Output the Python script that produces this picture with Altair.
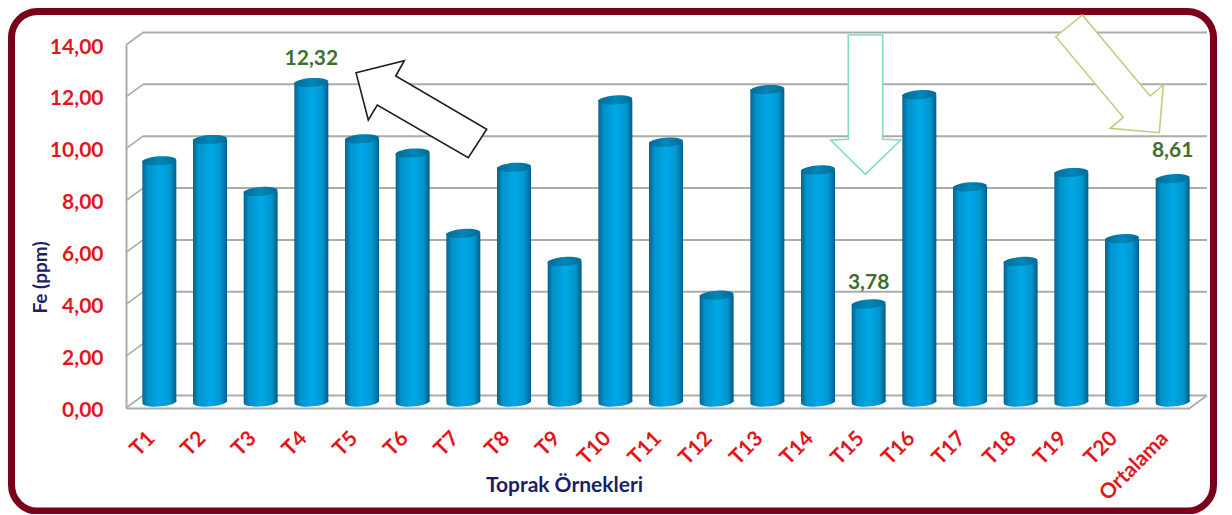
import altair as alt
import pandas as pd

categories = ["T1","T2","T3","T4","T5","T6","T7","T8","T9","T10","T11","T12","T13","T14","T15","T16","T17","T18","T19","T20","Ortalama"]
values = [9.30,10.12,8.12,12.32,10.15,9.60,6.50,9.05,5.42,11.65,10.02,4.12,12.05,8.95,3.78,11.85,8.30,5.42,8.85,6.30,8.61]
grid_values = [0,2,4,6,8,10,12,14]
callouts = [("12,32",3,12.32,-30),("3,78",14,3.78,-27),("8,61",20,8.61,-34)]

FONT = "Lato"
RED = "#e3171b"
NAVY = "#1d1d66"
GREEN = "#3f7030"
GRID = "#ababab"
W, H = 1064, 363
OX, OY = 126, 45          # plot origin in picture pixels

df = pd.DataFrame({"cat": categories, "i": [k + .5 for k in range(len(categories))], "v": values, "base": 0})
gdf = pd.DataFrame({"g": grid_values, "x0": 0, "x1": len(categories)})

xs = alt.Scale(domain=[0, len(categories)], nice=False, zero=False, padding=0)
ys = alt.Scale(domain=[0, 14], nice=False, padding=0)

def grad(stops):
    return {"gradient": "linear", "x1": 0, "x2": 1, "y1": 0, "y2": 0,
            "stops": [{"offset": o, "color": c} for o, c in stops]}

body = grad([(0, "#00658f"), (.16, "#0092ca"), (.5, "#00a8e6"), (.8, "#0098d2"), (1, "#005f88")])
top = grad([(0, "#006c96"), (.5, "#0086b8"), (1, "#006c96")])
ELLIPSE = "M-17,1.2 A17,4.5,-4,1,1,17,-1.2 A17,4.5,-4,1,1,-17,1.2 Z"

label_js = "[" + ",".join(f"'{c}'" for c in categories) + "][floor(datum.value)]"
x_axis = alt.Axis(values=df["i"].tolist(), labelExpr=label_js, labelAngle=-45, labelAlign="right",
                  labelBaseline="middle", labelPadding=27, labelColor=RED, labelFont=FONT, labelFontSize=21,
                  labelFontWeight="bold", labelOverlap=False, labelFlush=False, labelBound=False, ticks=False, grid=False,
                  domainColor=GRID, domainWidth=2, title="Toprak Örnekleri", titleFont=FONT, titleFontSize=21,
                  titleFontWeight="bold", titleColor=NAVY, titleX=438, titleY=77, titleBaseline="middle", titleAnchor="middle")
y_axis = alt.Axis(values=grid_values, labelExpr="replace(format(datum.value,'.2f'),'.',',')", labelPadding=23, labelOffset=2,
                  labelColor=RED, labelFont=FONT, labelFontSize=21, labelFontWeight="bold", ticks=False, grid=False,
                  domainColor=GRID, domainWidth=2, title="Fe (ppm)", titleFont=FONT, titleFontSize=19, titleFontWeight="bold",
                  titleColor=NAVY, titleX=-86, titleY=232, titleBaseline="middle", titleAnchor="middle", labelOverlap=False)

frame = alt.Chart(pd.DataFrame({"a": [0]})).mark_rect(fill="transparent", stroke="#7a0019", strokeWidth=7, cornerRadius=26).encode(
    x=alt.value(-114.5), x2=alt.value(1087.5), y=alt.value(-33.5), y2=alt.value(466))

back = alt.Chart(gdf).mark_rule(color=GRID, strokeWidth=2, xOffset=17, x2Offset=17, yOffset=-12.5, y2Offset=-12.5).encode(
    x=alt.X("x0:Q", scale=xs, axis=x_axis), x2="x1:Q", y=alt.Y("g:Q", scale=ys, axis=y_axis), y2="g:Q")
wall = alt.Chart(gdf).mark_rule(color=GRID, strokeWidth=1.6, x2Offset=17, y2Offset=-12.5).encode(
    x=alt.X("x0:Q", scale=xs), x2="x0:Q", y=alt.Y("g:Q", scale=ys), y2="g:Q")
floor_end = alt.Chart(gdf[gdf.g == 0]).mark_rule(color=GRID, strokeWidth=1.6, x2Offset=17, y2Offset=-12.5).encode(
    x=alt.X("x1:Q", scale=xs), x2="x1:Q", y=alt.Y("g:Q", scale=ys), y2="g:Q")

bars = alt.Chart(df).mark_bar(size=34, orient="vertical", fill=body, xOffset=8, yOffset=-6, y2Offset=-6).encode(
    x=alt.X("i:Q", scale=xs), y=alt.Y("v:Q", scale=ys), y2="base:Q")
bases = alt.Chart(df).mark_point(shape=ELLIPSE, size=4, filled=True, fill=body, opacity=1, xOffset=8, yOffset=-6, strokeWidth=0).encode(
    x=alt.X("i:Q", scale=xs), y=alt.Y("base:Q", scale=ys))
tops = alt.Chart(df).mark_point(shape=ELLIPSE, size=4, filled=True, fill=top, opacity=1, xOffset=8, yOffset=-6, strokeWidth=0).encode(
    x=alt.X("i:Q", scale=xs), y=alt.Y("v:Q", scale=ys))

notes = []
for txt, k, v, dy in callouts:
    notes.append(alt.Chart(pd.DataFrame({"t": [txt], "i": [k + .5], "v": [v]})).mark_text(
        font=FONT, fontSize=21, fontWeight="bold", color=GREEN, dy=dy, dx=8).encode(
        x=alt.X("i:Q", scale=xs), y=alt.Y("v:Q", scale=ys), text="t:N"))

def arrow(points, color, sw):
    path = "M" + " L".join(f"{x-OX},{y-OY}" for x, y in points) + " Z"
    return alt.Chart(pd.DataFrame({"a": [0]})).mark_point(
        shape=path, size=4, filled=True, fill="white", opacity=1, stroke=color, strokeWidth=sw).encode(
        x=alt.value(0), y=alt.value(0))

arrows = [
    arrow([(356,72.7),(404.3,60.7),(395.7,76),(486.7,129.3),(468.3,157.7),(377.3,105),(368.3,120)], "#1c1c1c", 1.6),
    arrow([(848.3,35),(882.7,35),(882.7,139.3),(900.7,140),(865.3,174.3),(830.7,140),(848.3,139.3)], "#7fdcc6", 1.6),
    arrow([(1082.3,15),(1150,96),(1163.3,85),(1159.3,132.7),(1110,128.3),(1123.3,117.3),(1055.7,36.7)], "#bccf7e", 1.6),
]

chart = alt.layer(frame, back, wall, floor_end, bases, bars, tops, *notes, *arrows).properties(
    width=W, height=H, autosize=alt.AutoSizeParams(type="none"),
    padding={"left": 118, "top": 37, "right": 27, "bottom": 106}, background="white"
).configure_view(stroke=None)

chart.save("out.html", embed_options={"renderer": "svg", "actions": False})
